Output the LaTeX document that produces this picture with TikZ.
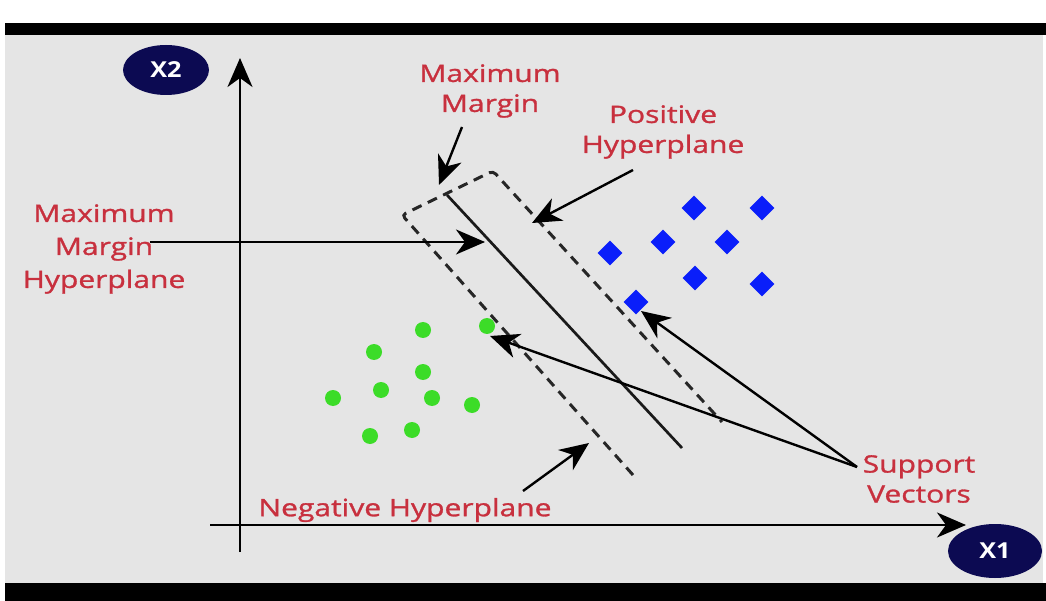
\documentclass[tikz,border=0pt]{standalone}
\usepackage{fontspec}
\usetikzlibrary{arrows.meta,shapes.geometric}
\newfontfamily\lblfont{Open Sans}[FakeStretch=1.25,FakeBold=1.2]
\newfontfamily\axfont{Open Sans}[FakeStretch=1.15]
\definecolor{bggray}{RGB}{229,229,229}
\definecolor{lblred}{RGB}{200,48,62}
\definecolor{navy}{RGB}{12,10,82}
\definecolor{ptblue}{RGB}{10,30,250}
\definecolor{ptgreen}{RGB}{60,220,40}
\begin{document}
\begin{tikzpicture}[x=1pt,y=-1pt,
  lbl/.style={text=lblred, font=\lblfont\fontsize{24}{30}\selectfont, align=center, inner sep=0pt},
  axlbl/.style={ellipse, fill=navy, text=white, font=\axfont\bfseries\fontsize{22}{22}\selectfont, inner sep=0pt},
  ptr/.style={draw=black, line width=2.4pt, -{Stealth[length=29pt,width=25pt,inset=9pt]}},
  axisarrow/.style={draw=black, line width=2.6pt, -{Stealth[length=29pt,width=25pt,inset=9pt]}},
  margin/.style={draw=black!85, line width=3pt, dash pattern=on 10pt off 7pt, rounded corners=4pt},
  hyper/.style={draw=black!90, line width=2.7pt},
  bluept/.style={diamond, aspect=1, fill=ptblue, minimum width=25pt, minimum height=25pt, inner sep=0pt},
  greenpt/.style={circle, fill=ptgreen, minimum size=16pt, inner sep=0pt}
]
\useasboundingbox (0,0) rectangle (1046,601);
% background
\fill[white] (0,0) rectangle (1046,601);
\fill[bggray] (5,34) rectangle (1043,583);
\fill[black] (5,23) rectangle (1046,35);
\fill[black] (5,583) rectangle (1046,601);

% axis labels
\node[axlbl, minimum width=86pt, minimum height=50pt] (x2) at (166,70) {X2};
\node[axlbl, minimum width=94pt, minimum height=54pt] (x1) at (995,551) {X1};

% axes
\coordinate (yb) at (240,552);
\coordinate (yt) at (240,58);
\coordinate (xl) at (210,525);
\coordinate (xr) at (966,525);
\draw[axisarrow] (yb) -- (yt);
\draw[axisarrow] (xl) -- (xr);

% margin box and hyperplane
\coordinate (mD) at (633,475);
\coordinate (mA) at (402,215);
\coordinate (mB) at (493,171);
\coordinate (mC) at (722,422);
\draw[margin] (mD) -- (mA) -- (mB) -- (mC);
\coordinate (hT) at (447,195);
\coordinate (hB) at (682,448);
\draw[hyper] (hT) -- (hB);

% points
\foreach \i/\p in {1/{(694,208)},2/{(762,208)},3/{(663,242)},4/{(727,242)},5/{(610,253)},6/{(695,278)},7/{(762,284)},8/{(636,302)}}
  \node[bluept] (b\i) at \p {};
\foreach \i/\p in {1/{(423,330)},2/{(374,352)},3/{(423,372)},4/{(381,390)},5/{(333,398)},6/{(432,398)},7/{(472,405)},8/{(370,436)},9/{(412,430)},10/{(487,326)}}
  \node[greenpt] (g\i) at \p {};

% labels
\node[lbl] (mm) at (490,91) {Maximum\\Margin};
\node[lbl] (ph) at (663,132) {Positive\\Hyperplane};
\node[lbl, font=\lblfont\fontsize{24}{33}\selectfont] (mmh) at (104,249) {Maximum\\Margin\\Hyperplane};
\node[lbl] (sv) at (919,479) {Support\\Vectors};
\node[lbl] (nh) at (405,510) {Negative Hyperplane};

% pointers
\coordinate (mmS) at (462,127);
\coordinate (mmE) at (439,185);
\draw[ptr] (mmS) -- (mmE);
\coordinate (phS) at (633,170);
\coordinate (phE) at (532,223);
\draw[ptr] (phS) -- (phE);
\coordinate (mmhS) at (150,242);
\coordinate (mmhE) at (485,242);
\draw[ptr] (mmhS) -- (mmhE);
\coordinate (svS) at (857,467);
\coordinate (svE1) at (641,311);
\coordinate (svE2) at (490,336);
\draw[ptr] (svS) -- (svE1);
\draw[ptr] (svS) -- (svE2);
\coordinate (nhS) at (523,491);
\coordinate (nhE) at (589,443);
\draw[ptr] (nhS) -- (nhE);
\end{tikzpicture}
\end{document}
